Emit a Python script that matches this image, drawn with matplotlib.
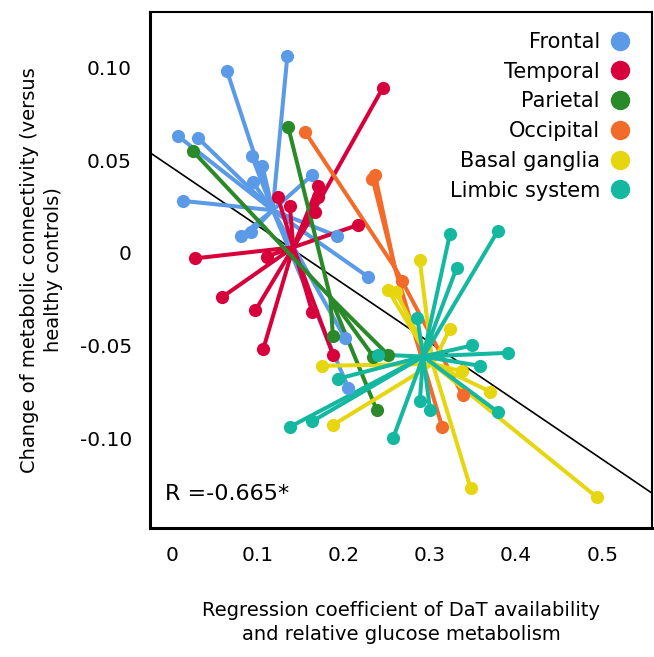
import numpy as np
import matplotlib.pyplot as plt
from matplotlib.lines import Line2D

# Region groups, colours and star centres (group means)
regions = ['Frontal', 'Temporal', 'Parietal', 'Occipital', 'Basal ganglia', 'Limbic system']
colors = ['#5A9AE6', '#D8003A', '#2A8A2A', '#F26B2A', '#E6D610', '#14B8A0']
center_x = [0.117, 0.141, 0.184, 0.259, 0.303, 0.292]
center_y = [0.023, 0.003, -0.024, -0.008, -0.060, -0.056]

# Individual points per region (x: regression coefficient, y: change of connectivity)
frontal_x = [0.007, 0.030, 0.064, 0.134, 0.013, 0.093, 0.105, 0.094, 0.163, 0.080, 0.092, 0.192, 0.228, 0.201, 0.205]
frontal_y = [0.063, 0.062, 0.098, 0.106, 0.028, 0.052, 0.047, 0.038, 0.042, 0.009, 0.011, 0.009, -0.013, -0.046, -0.073]
temporal_x = [0.245, 0.170, 0.170, 0.166, 0.216, 0.123, 0.137, 0.027, 0.110, 0.058, 0.097, 0.106, 0.163, 0.187]
temporal_y = [0.089, 0.036, 0.030, 0.022, 0.015, 0.030, 0.025, -0.003, -0.002, -0.024, -0.031, -0.052, -0.032, -0.055]
parietal_x = [0.024, 0.135, 0.187, 0.234, 0.251, 0.238]
parietal_y = [0.055, 0.068, -0.045, -0.056, -0.055, -0.085]
occipital_x = [0.155, 0.236, 0.233, 0.267, 0.314, 0.338]
occipital_y = [0.065, 0.042, 0.040, -0.015, -0.094, -0.077]
basal_x = [0.288, 0.251, 0.260, 0.323, 0.337, 0.370, 0.174, 0.187, 0.347, 0.494]
basal_y = [-0.004, -0.020, -0.021, -0.041, -0.064, -0.075, -0.061, -0.093, -0.127, -0.132]
limbic_x = [0.323, 0.379, 0.331, 0.285, 0.349, 0.391, 0.358, 0.379, 0.137, 0.163, 0.193, 0.257, 0.288, 0.300, 0.240]
limbic_y = [0.010, 0.012, -0.008, -0.035, -0.050, -0.054, -0.061, -0.086, -0.094, -0.091, -0.068, -0.100, -0.080, -0.085, -0.055]

points_x = [frontal_x, temporal_x, parietal_x, occipital_x, basal_x, limbic_x]
points_y = [frontal_y, temporal_y, parietal_y, occipital_y, basal_y, limbic_y]

# Fitted regression line
reg_slope = -0.315
reg_intercept = 0.046

xticks = [0, 0.1, 0.2, 0.3, 0.4, 0.5]
xticklabels = ['0', '0.1', '0.2', '0.3', '0.4', '0.5']
yticks = [0.10, 0.05, 0, -0.05, -0.10]
yticklabels = ['0.10', '0.05', '0', '-0.05', '-0.10']

fig = plt.figure(figsize=(6.54, 6.57), dpi=100)
ax = fig.add_axes([0.2294, 0.1963, 0.7676, 0.7854])
ax.set_xlim(-0.0256, 0.558)
ax.set_ylim(-0.1486, 0.130)

# Regression line behind the stars
xr = np.array(ax.get_xlim())
ax.plot(xr, reg_intercept + reg_slope * xr, color='black', lw=1.2, zorder=1)

# Star plot: line from centre to each point, dot at the end
for cx, cy, px, py, c in zip(center_x, center_y, points_x, points_y, colors):
    for x, y in zip(px, py):
        ax.plot([cx, x], [cy, y], color=c, lw=2.9, solid_capstyle='round', zorder=2)
    ax.plot(px, py, 'o', color=c, markersize=9.5, markeredgewidth=0, zorder=3)

ax.set_xticks(xticks)
ax.set_xticklabels(xticklabels)
ax.set_yticks(yticks)
ax.set_yticklabels(yticklabels)
ax.tick_params(length=0, labelsize=14.5, pad=13)
ax.tick_params(axis='y', pad=13)

for side in ['left', 'bottom']:
    ax.spines[side].set_linewidth(2.2)
for side in ['top', 'right']:
    ax.spines[side].set_linewidth(1.5)

ax.set_xlabel('Regression coefficient of DaT availability\nand relative glucose metabolism',
              fontsize=14, labelpad=26, linespacing=1.35)
ax.set_ylabel('Change of metabolic connectivity (versus\nhealthy controls)',
              fontsize=14, labelpad=12, linespacing=1.35)

ax.text(0.03, 0.065, 'R =-0.665*', transform=ax.transAxes, fontsize=16, va='center')

handles = [Line2D([], [], marker='o', ls='', color=c, markersize=14, markeredgewidth=0) for c in colors]
ax.legend(handles, regions, loc='upper right', frameon=False, markerfirst=False,
          fontsize=15, labelspacing=0.47, handletextpad=0.35, borderaxespad=0.55,
          handlelength=1.2)

fig.savefig('out.png', dpi=100)
